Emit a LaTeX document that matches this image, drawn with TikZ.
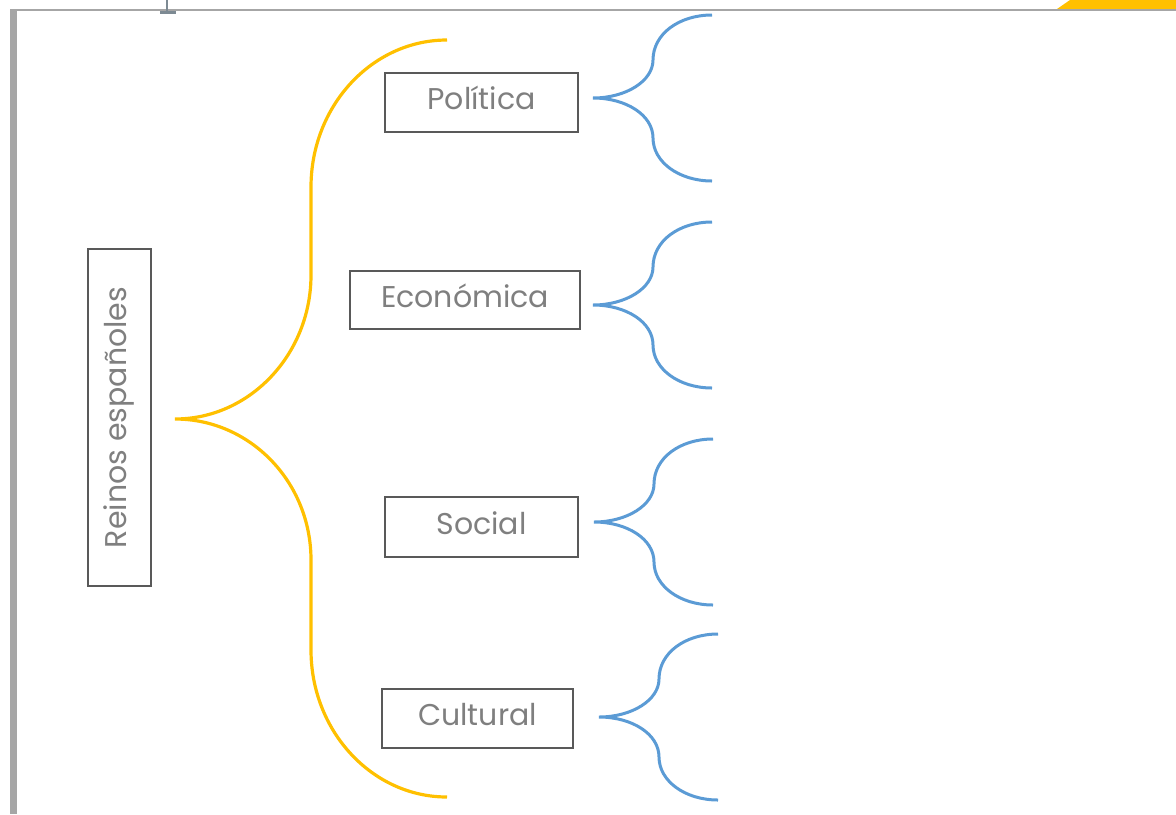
\documentclass[tikz,border=0pt]{standalone}
\usepackage{fontspec}
\setmainfont{Poppins}

\definecolor{braceyellow}{HTML}{FFC000}
\definecolor{braceblue}{HTML}{5B9BD5}
\definecolor{textgray}{HTML}{7F7F7F}
\definecolor{framegray}{HTML}{A6A6A6}
\definecolor{cursorgray}{HTML}{7D8A93}

\tikzset{
  box/.style={rectangle, draw=black!65, line width=0.7pt, text=textgray,
    font=\fontsize{15}{17}\selectfont, inner sep=0pt, text height=11pt, text depth=4pt},
  ybrace/.style={draw=braceyellow, line width=1.6pt},
  bbrace/.style={draw=braceblue, line width=1.5pt}
}

\begin{document}
\begin{tikzpicture}[x=0.5pt, y=-0.5pt]
  \useasboundingbox (0,0) rectangle (1176,814);
  % page frame
  \fill[braceyellow] (1057,9) -- (1070,0) -- (1176,0) -- (1176,9) -- cycle;
  \fill[framegray] (10,9) rectangle (17,814);
  \draw[framegray, line width=1pt] (10,9.5) -- (1176,9.5);
  \draw[cursorgray, line width=1.2pt] (167,0) -- (167,12);
  \draw[cursorgray, line width=1.5pt] (160,12) -- (176,12);

  \node[box, rotate=90, minimum width=168.5pt, minimum height=31.5pt] (reinos) at (119.5,417.5) {Reinos españoles};
  \node[box, minimum width=96.5pt, minimum height=29.5pt] (pol) at (481.5,102.5) {Política};
  \node[box, minimum width=115pt, minimum height=29pt] (eco) at (465,300) {Económica};
  \node[box, minimum width=96.5pt, minimum height=30pt] (soc) at (481.5,527) {Social};
  \node[box, minimum width=95.5pt, minimum height=29.5pt] (cul) at (477.5,718.5) {Cultural};

  % big brace
  \coordinate (ytip) at (175,419);
  \draw[ybrace, shift={(ytip)}] (272,-379) .. controls (197,-379) and (136,-313) .. (136,-232)
    -- (136,-144) .. controls (136,-65) and (75,0) .. (0,0)
    .. controls (75,0) and (136,63) .. (136,141)
    -- (136,231) .. controls (136,312) and (197,378) .. (272,378);

  % small braces
  \foreach \n/\x/\y in {pol/593/98, eco/593/305, soc/594/522, cul/599/717} {
    \coordinate (tip-\n) at (\x,\y);
    \draw[bbrace, shift={(tip-\n)}] (119,-83) .. controls (86,-83) and (60,-64) .. (60,-38)
      .. controls (60,-17) and (33,0) .. (0,0)
      .. controls (33,0) and (60,17) .. (60,40)
      .. controls (60,64) and (86,83) .. (119,83);
  }
\end{tikzpicture}
\end{document}
